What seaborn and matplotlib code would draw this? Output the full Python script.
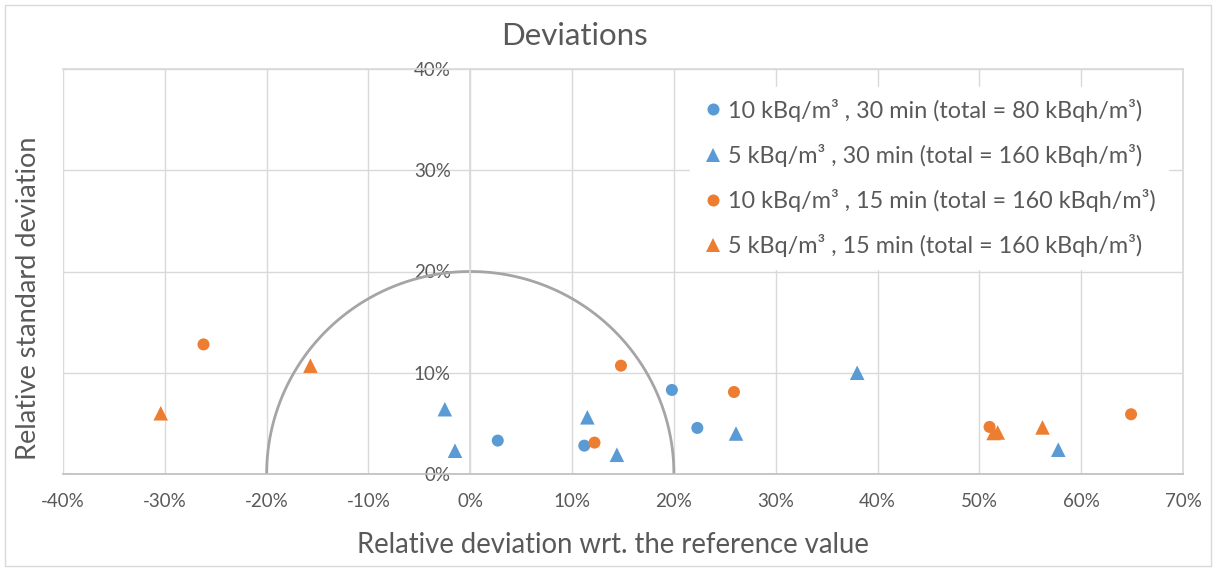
"""Scatter of relative deviation vs relative standard deviation, with the 20 % acceptance semicircle"""
import numpy as np
import pandas as pd
import matplotlib
matplotlib.use("Agg")
import matplotlib.pyplot as plt
from matplotlib.patches import Rectangle
from matplotlib.ticker import FuncFormatter
import seaborn as sns

# series labels
labels = [
    "10 kBq/m³ , 30 min (total = 80 kBqh/m³)",
    "5 kBq/m³ , 30 min (total = 160 kBqh/m³)",
    "10 kBq/m³ , 15 min (total = 160 kBqh/m³)",
    "5 kBq/m³ , 15 min (total = 160 kBqh/m³)",
]

# values in %
dev_10_30 = [2.7, 11.2, 19.8, 22.3]
std_10_30 = [3.3, 2.8, 8.3, 4.55]

dev_5_30 = [-2.5, -1.5, 11.5, 14.4, 26.1, 38.0, 57.75]
std_5_30 = [6.4, 2.3, 5.6, 1.9, 4.0, 10.0, 2.4]

dev_10_15 = [-26.2, 12.2, 14.8, 25.9, 51.0, 64.9]
std_10_15 = [12.8, 3.1, 10.7, 8.1, 4.65, 5.9]

dev_5_15 = [-30.4, -15.7, 51.4, 51.8, 56.2]
std_5_15 = [6.0, 10.7, 4.05, 4.1, 4.6]

limit_radius = 20  # acceptance circle, %

x_ticks = list(range(-40, 71, 10))
y_ticks = list(range(0, 41, 10))

blue = "#5B9BD5"
orange = "#ED7D31"
text_grey = "#595959"
grid_grey = "#D9D9D9"


def build_frame():
    parts = []
    for lab, xs, ys in zip(labels,
                           [dev_10_30, dev_5_30, dev_10_15, dev_5_15],
                           [std_10_30, std_5_30, std_10_15, std_5_15]):
        parts.append(pd.DataFrame({"dev": xs, "std": ys, "series": lab}))
    return pd.concat(parts, ignore_index=True)


df = build_frame()

sns.set_theme(style="white")
plt.rcParams["font.family"] = ["Lato", "DejaVu Sans"]

fig = plt.figure(figsize=(12.16, 5.71), dpi=100)
ax = fig.add_axes([63 / 1216, 1 - 474 / 571, (1183 - 63) / 1216, (474 - 69) / 571])

ax.set_xlim(x_ticks[0], x_ticks[-1])
ax.set_ylim(y_ticks[0], y_ticks[-1])
ax.set_xticks(x_ticks)
ax.set_yticks(y_ticks)
ax.grid(True, color=grid_grey, lw=1)
ax.set_axisbelow(True)

# semicircle of 20 %
t = np.linspace(0, np.pi, 300)
ax.plot(limit_radius * np.cos(t), limit_radius * np.sin(t), color="#A5A5A5", lw=2, zorder=2)

sns.scatterplot(data=df, x="dev", y="std", hue="series", style="series", size="series",
                palette=dict(zip(labels, [blue, blue, orange, orange])),
                markers=dict(zip(labels, ["o", "^", "o", "^"])),
                sizes=dict(zip(labels, [75, 110, 75, 110])),
                linewidth=0, ax=ax, zorder=3, legend=True)

for side in ["top", "right"]:
    ax.spines[side].set_color(grid_grey)
ax.spines["bottom"].set_color("#BFBFBF")
ax.spines["left"].set_position(("data", 0))
ax.spines["left"].set_color(grid_grey)

pct = FuncFormatter(lambda v, _: f"{v:.0f}%".replace("\u2212", "-"))
ax.xaxis.set_major_formatter(pct)
ax.yaxis.set_major_formatter(pct)
ax.tick_params(axis="both", length=0, labelsize=13.5, labelcolor=text_grey)
ax.tick_params(axis="x", pad=14)
ax.tick_params(axis="y", pad=14)
ax.set_xlabel("")
ax.set_ylabel("")

handles, _ = ax.get_legend_handles_labels()
ax.legend(handles, labels, loc="upper left",
          bbox_to_anchor=(690 / 1216, 1 - 87 / 571), bbox_transform=fig.transFigure,
          frameon=True, facecolor="white", edgecolor="white", framealpha=1,
          fontsize=16.8, labelcolor=text_grey, handletextpad=0.15, handlelength=1.0,
          labelspacing=0.95, borderpad=0.5, borderaxespad=0)

fig.text(574 / 1216, 1 - 36 / 571, "Deviations", ha="center", va="center",
         fontsize=22.5, color=text_grey)
fig.text(613 / 1216, 1 - 545 / 571, "Relative deviation wrt. the reference value",
         ha="center", va="center", fontsize=19.8, color=text_grey)
fig.text(29 / 1216, 1 - 298 / 571, "Relative standard deviation", rotation=90,
         ha="center", va="center", fontsize=19.5, color=text_grey)

fig.patches.append(Rectangle((5 / 1216, 5 / 571), 1 - 10 / 1216, 1 - 10 / 571,
                             transform=fig.transFigure, fill=False,
                             edgecolor=grid_grey, lw=1))

fig.savefig("out.png", dpi=100)
